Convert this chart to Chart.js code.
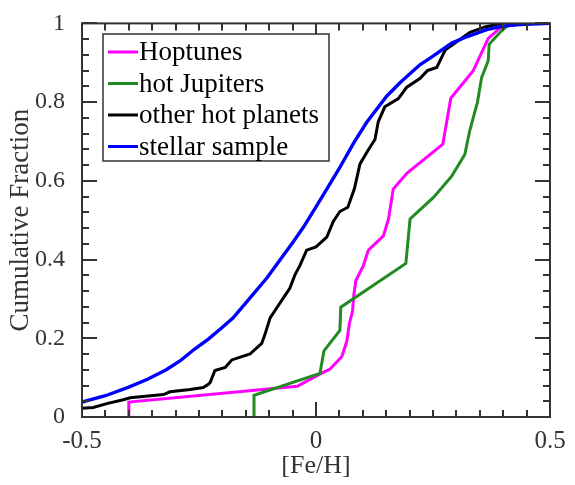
<!DOCTYPE html>
<html>
<head>
<meta charset="utf-8">
<script src="https://cdn.jsdelivr.net/npm/chart.js@4.4.1/dist/chart.umd.min.js"></script>
<style>
  body { margin: 0; background: #fff; }
  #wrap { width: 575px; height: 485px; }
</style>
</head>
<body>
<div id="wrap"><canvas id="myChart" width="575" height="485"></canvas></div>
<script>
// values
const hoptunesFeH = [-0.40, -0.40, -0.04, 0.01, 0.03, 0.055, 0.066, 0.071, 0.078, 0.081, 0.085, 0.101, 0.112, 0.144, 0.155, 0.165, 0.194, 0.271, 0.288, 0.336, 0.368, 0.393, 0.41];
const hoptunesFrac = [0, 0.038, 0.078, 0.11, 0.122, 0.153, 0.193, 0.235, 0.269, 0.311, 0.346, 0.384, 0.424, 0.46, 0.503, 0.579, 0.619, 0.693, 0.81, 0.88, 0.962, 0.988, 1];

const hotJupFeH = [-0.1325, -0.1325, 0.0085, 0.017, 0.051, 0.053, 0.192, 0.201, 0.251, 0.29, 0.318, 0.328, 0.345, 0.354, 0.368, 0.370, 0.393, 0.415];
const hotJupFrac = [0, 0.055, 0.111, 0.168, 0.22, 0.279, 0.39, 0.503, 0.558, 0.612, 0.667, 0.725, 0.80, 0.863, 0.905, 0.947, 0.977, 1];

const otherFeH = [-0.5, -0.476, -0.447, -0.412, -0.397, -0.326, -0.312, -0.269, -0.241, -0.23, -0.226, -0.216, -0.194, -0.18, -0.141, -0.116, -0.109, -0.098, -0.084, -0.07, -0.056, -0.045, -0.034, -0.02, 0.0, 0.023, 0.037, 0.051, 0.068, 0.082, 0.094, 0.112, 0.126, 0.133, 0.147, 0.176, 0.194, 0.222, 0.238, 0.258, 0.276, 0.293, 0.329, 0.361, 0.397];
const otherFrac = [0.022, 0.024, 0.034, 0.044, 0.049, 0.057, 0.064, 0.070, 0.075, 0.083, 0.088, 0.118, 0.126, 0.145, 0.160, 0.187, 0.21, 0.252, 0.277, 0.302, 0.327, 0.361, 0.386, 0.424, 0.432, 0.457, 0.497, 0.522, 0.533, 0.58, 0.643, 0.679, 0.705, 0.75, 0.788, 0.809, 0.838, 0.860, 0.88, 0.888, 0.932, 0.947, 0.977, 0.991, 1.0];

const stellarFeH = [-0.5, -0.45, -0.40, -0.36, -0.32, -0.29, -0.26, -0.23, -0.2, -0.177, -0.14, -0.105, -0.077, -0.05, -0.027, 0.0, 0.023, 0.05, 0.08, 0.108, 0.151, 0.18, 0.222, 0.25, 0.29, 0.322, 0.365, 0.40, 0.436, 0.5];
const stellarFrac = [0.038, 0.054, 0.076, 0.096, 0.12, 0.143, 0.172, 0.198, 0.228, 0.252, 0.304, 0.353, 0.399, 0.443, 0.482, 0.534, 0.579, 0.632, 0.695, 0.748, 0.815, 0.85, 0.895, 0.917, 0.95, 0.966, 0.984, 0.993, 0.997, 1.0];

const seriesNames = ['Hoptunes', 'hot Jupiters', 'other hot planets', 'stellar sample'];
const seriesColors = ['#ff00ff', '#228b22', '#000000', '#0000ff'];

const xTicks = [-0.5, 0, 0.5];
const yTicks = [0, 0.2, 0.4, 0.6, 0.8, 1];

const FONT = "'Liberation Serif', 'Times New Roman', serif";
const AXIS_COLOR = '#333';

function toPoints(xs, ys) {
    return xs.map((x, i) => ({ x: x, y: ys[i] }));
}

const seriesData = [
    toPoints(hoptunesFeH, hoptunesFrac),
    toPoints(hotJupFeH, hotJupFrac),
    toPoints(otherFeH, otherFrac),
    toPoints(stellarFeH, stellarFrac)
];

// frame with inward ticks on all four sides
const framePlugin = {
    id: 'frame',
    afterDatasetsDraw(chart) {
        const ctx = chart.ctx;
        const a = chart.chartArea;
        const xs = chart.scales.x, ys = chart.scales.y;
        ctx.save();
        ctx.strokeStyle = AXIS_COLOR;
        ctx.lineWidth = 2;
        ctx.beginPath();
        for (let i = 0; i <= 20; i++) {
            const v = -0.5 + i * 0.05;
            const px = Math.round(xs.getPixelForValue(v));
            const len = (i % 10 === 0) ? 15 : 7;
            ctx.moveTo(px, a.bottom); ctx.lineTo(px, a.bottom - len);
            ctx.moveTo(px, a.top); ctx.lineTo(px, a.top + len);
        }
        for (let i = 0; i <= 25; i++) {
            const v = i * 0.04;
            const py = Math.round(ys.getPixelForValue(v));
            const len = (i % 5 === 0) ? 15 : 7;
            ctx.moveTo(a.left, py); ctx.lineTo(a.left + len, py);
            ctx.moveTo(a.right, py); ctx.lineTo(a.right - len, py);
        }
        ctx.stroke();
        ctx.strokeRect(a.left, a.top, a.right - a.left, a.bottom - a.top);
        ctx.restore();
    }
};

// boxed legend in the upper left of the plot
const legendPlugin = {
    id: 'boxLegend',
    afterDraw(chart) {
        const ctx = chart.ctx;
        const bx = 103, by = 34, bw = 226, bh = 127;
        ctx.save();
        ctx.fillStyle = '#fff';
        ctx.fillRect(bx, by, bw, bh);
        ctx.strokeStyle = AXIS_COLOR;
        ctx.lineWidth = 1.5;
        ctx.strokeRect(bx, by, bw, bh);
        ctx.font = '27px ' + FONT;
        ctx.textBaseline = 'middle';
        ctx.textAlign = 'left';
        seriesNames.forEach((name, i) => {
            const cy = by + 18 + i * 31.5;
            ctx.strokeStyle = seriesColors[i];
            ctx.lineWidth = 3;
            ctx.beginPath();
            ctx.moveTo(108, cy); ctx.lineTo(138, cy);
            ctx.stroke();
            ctx.fillStyle = '#000';
            ctx.fillText(name, 139, cy + 1);
        });
        ctx.restore();
    }
};

const ctx = document.getElementById('myChart');

const aChart = new Chart(ctx, {
    type: 'line',
    data: {
        datasets: seriesData.map((pts, i) => ({
            label: seriesNames[i],
            data: pts,
            borderColor: seriesColors[i],
            borderWidth: i === 3 ? 3.4 : 3,
            pointRadius: 0,
            tension: 0,
            fill: false,
            order: i === 3 ? 0 : 4 - i
        }))
    },
    options: {
        responsive: false,
        animation: false,
        layout: { padding: { top: 19, right: 25, left: 0, bottom: 0 } },
        plugins: { legend: { display: false }, tooltip: { enabled: false } },
        scales: {
            x: {
                type: 'linear',
                min: -0.5, max: 0.5,
                grid: { display: false },
                border: { display: false },
                afterBuildTicks: s => { s.ticks = xTicks.map(v => ({ value: v })); },
                afterFit: s => { s.height = 68; },
                ticks: {
                    padding: 1,
                    maxRotation: 0,
                    color: AXIS_COLOR,
                    font: { family: FONT, size: 25 },
                    callback: v => String(v)
                },
                title: {
                    display: true,
                    text: '[Fe/H]',
                    color: AXIS_COLOR,
                    font: { family: FONT, size: 26 },
                    padding: { top: 0, bottom: 3 }
                }
            },
            y: {
                type: 'linear',
                min: 0, max: 1,
                grid: { display: false },
                border: { display: false },
                afterBuildTicks: s => { s.ticks = yTicks.map(v => ({ value: v })); },
                afterFit: s => { s.width = 82; },
                ticks: {
                    padding: 9,
                    color: AXIS_COLOR,
                    font: { family: FONT, size: 24 },
                    callback: v => String(v)
                },
                title: {
                    display: true,
                    text: 'Cumulative Fraction',
                    color: AXIS_COLOR,
                    font: { family: FONT, size: 27 },
                    padding: { top: 5, bottom: 0 }
                }
            }
        }
    },
    plugins: [framePlugin, legendPlugin]
});
</script>
</body>
</html>
